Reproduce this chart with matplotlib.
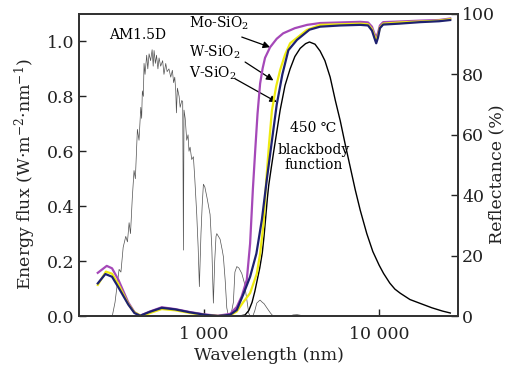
import matplotlib
matplotlib.use("Agg")
import matplotlib.pyplot as plt

# ---------------- data ----------------
am_wl = [299, 310, 327, 335, 345, 357, 365, 373, 380, 389, 398, 405, 416, 425, 435, 440,
         444, 450, 454, 460, 470, 477, 485, 495, 505, 512, 518, 527, 535, 545, 553, 565,
         580, 590, 604, 615, 630, 645, 659, 670, 680, 689, 695, 704, 720, 730, 746, 755,
         762, 768, 780, 796, 810, 820, 832, 850, 869, 885, 908, 925, 940, 960, 975, 991,
         1010, 1040, 1082, 1107, 1130, 1150, 1170, 1182, 1234, 1270, 1289, 1320, 1348, 1377,
         1420, 1470, 1500, 1538, 1580, 1642, 1700, 1754, 1800, 1832, 1900, 1950, 2000, 2060,
         2089, 2150, 2200, 2282, 2400, 2480, 3100, 3226, 3400, 3537, 3700]
am_val = [0.0, 0.05, 0.17, 0.16, 0.25, 0.29, 0.27, 0.34, 0.30, 0.43, 0.53, 0.50, 0.68, 0.64,
          0.76, 0.72, 0.82, 0.80, 0.92, 0.88, 0.95, 0.90, 0.955, 0.93, 0.97, 0.91, 0.967, 0.92,
          0.95, 0.90, 0.94, 0.91, 0.93, 0.88, 0.92, 0.89, 0.90, 0.87, 0.895, 0.85, 0.87, 0.82,
          0.74, 0.83, 0.80, 0.76, 0.785, 0.78, 0.24, 0.75, 0.72, 0.64, 0.66, 0.60, 0.615, 0.57,
          0.58, 0.50, 0.37, 0.25, 0.107, 0.30, 0.40, 0.48, 0.47, 0.43, 0.37, 0.25, 0.047, 0.20,
          0.29, 0.30, 0.28, 0.24, 0.216, 0.13, 0.03, 0.0, 0.0, 0.05, 0.16, 0.18, 0.175, 0.155,
          0.12, 0.06, 0.01, 0.0, 0.0, 0.02, 0.047, 0.055, 0.058, 0.05, 0.045, 0.03, 0.01, 0.0,
          0.0, 0.004, 0.005, 0.003, 0.0]

bb_wl = [1600, 1715, 1800, 1880, 1950, 2010, 2080, 2150, 2200, 2250, 2300, 2340, 2420, 2500,
         2600, 2720, 2900, 3100, 3300, 3540, 3800, 4000, 4300, 4600, 4900, 5250, 5620, 6000,
         6400, 6833, 7300, 7800, 8500, 9200, 10000, 10600, 11500, 12300, 13200, 15000, 17150,
         20000, 23000, 25500]
bb_val = [0.0, 0.004, 0.02, 0.05, 0.09, 0.13, 0.175, 0.23, 0.29, 0.36, 0.43, 0.476, 0.54,
          0.60, 0.67, 0.75, 0.84, 0.90, 0.945, 0.975, 0.992, 0.998, 0.99, 0.965, 0.93, 0.87,
          0.785, 0.71, 0.625, 0.543, 0.46, 0.385, 0.30, 0.235, 0.185, 0.155, 0.12, 0.098,
          0.083, 0.06, 0.046, 0.03, 0.018, 0.011]

mo_wl = [247, 278, 298, 324, 369, 400, 431, 491, 573, 683, 832, 1013, 1200, 1408, 1537, 1640,
         1754, 1832, 1900, 1960, 2020, 2090, 2160, 2230, 2383, 2600, 2830, 3300, 3880, 4600,
         6000, 7800, 8640, 9100, 9400, 9620, 9850, 10100, 10540, 13000, 17150, 22000, 25460]
mo_R = [14.3, 16.6, 15.8, 12.0, 4.5, 1.3, 0.1, 1.5, 2.9, 2.3, 1.3, 0.5, 0.1, 0.7, 3.0, 6.5,
        12.0, 24.0, 42.0, 55.0, 67.0, 77.0, 82.0, 85.5, 89.0, 91.8, 93.6, 95.3, 96.4, 97.0,
        97.2, 97.4, 97.2, 95.8, 93.5, 92.2, 93.8, 96.2, 97.3, 97.5, 97.8, 98.0, 98.5]

w_wl = [247, 275, 298, 324, 369, 400, 440, 491, 573, 683, 832, 1013, 1220, 1408, 1537, 1670,
        1832, 2000, 2090, 2180, 2260, 2350, 2440, 2580, 2720, 2900, 3100, 3860, 4600, 6000,
        7800, 8640, 9100, 9400, 9620, 9850, 10100, 10540, 13000, 17150, 22000, 25460]
w_R = [10.3, 14.7, 14.0, 10.5, 4.0, 1.2, 0.0, 1.0, 2.3, 1.9, 1.0, 0.3, 0.0, 0.2, 1.5, 4.5,
       7.6, 14.0, 20.7, 30.0, 44.0, 57.0, 68.0, 76.0, 81.5, 86.5, 90.3, 94.7, 96.4, 96.6,
       96.8, 96.6, 95.0, 92.8, 91.0, 92.8, 95.5, 96.8, 97.2, 97.5, 97.8, 98.3]

v_wl = [247, 273, 298, 324, 369, 400, 431, 491, 573, 683, 832, 1013, 1200, 1408, 1537, 1670,
        1832, 1990, 2140, 2280, 2440, 2600, 2800, 3030, 3390, 4000, 4600, 6000, 7800, 8640,
        9100, 9400, 9620, 9850, 10100, 10540, 13000, 17150, 22000, 25460]
v_R = [10.8, 13.9, 13.0, 9.5, 3.8, 1.0, 0.1, 1.4, 2.7, 2.2, 1.2, 0.4, 0.0, 0.4, 2.0, 7.0,
       13.0, 20.7, 32.0, 45.0, 58.0, 70.0, 80.0, 88.0, 91.4, 94.8, 95.8, 96.2, 96.4, 96.2,
       94.5, 92.0, 90.3, 92.2, 95.3, 96.5, 96.8, 97.3, 97.6, 98.0]

x_ticks = [1000, 10000]
x_ticklabels = ["1 000", "10 000"]
left_ticks = [0.0, 0.2, 0.4, 0.6, 0.8, 1.0]
right_ticks = [0, 20, 40, 60, 80, 100]

# ---------------- style ----------------
plt.rcParams['font.family'] = ['DejaVu Serif', 'DejaVu Sans']
plt.rcParams['mathtext.fontset'] = 'dejavuserif'
FS = 12.5
TXT = '#222222'

fig = plt.figure(figsize=(5.14, 3.71), dpi=100)
ax = fig.add_axes([0.1537, 0.1482, 0.891 - 0.1537, 0.9623 - 0.1482])
ax2 = ax.twinx()

ax.plot(am_wl, am_val, color='#505050', lw=0.5)
ax.plot(bb_wl, bb_val, color='black', lw=1.0)

ax2.plot(mo_wl, mo_R, color='#a548b8', lw=1.6)
ax2.plot(w_wl, w_R, color='#eeea10', lw=1.6)
ax2.plot(v_wl, v_R, color='#1e2170', lw=1.6)

ax.set_xscale('log')
ax.set_xlim(193, 28200)
ax.set_ylim(0, 1.1)
ax2.set_ylim(0, 100)

ax.set_xticks(x_ticks)
ax.set_xticklabels(x_ticklabels)
ax.xaxis.set_minor_locator(matplotlib.ticker.NullLocator())
ax.set_yticks(left_ticks)
ax.set_yticklabels([f"{t:.1f}" for t in left_ticks])
ax2.set_yticks(right_ticks)

for a in (ax, ax2):
    a.tick_params(direction='in', labelsize=FS, length=5, width=1.0, colors=TXT,
                  labelcolor=TXT, pad=3)
    for s in a.spines.values():
        s.set_linewidth(1.3)
        s.set_color('#333333')
ax.tick_params(axis='x', pad=7)

ax.set_xlabel('Wavelength (nm)', fontsize=FS, color=TXT, labelpad=3)
ax.set_ylabel('Energy flux (W·m$^{-2}$·nm$^{-1}$)', fontsize=FS, color=TXT)
ax.yaxis.set_label_coords(-0.107, 0.47)
fig.text(497 / 514, 0.53, 'Reflectance (%)', fontsize=FS, color=TXT, rotation=90,
         ha='center', va='center')

# ---------------- annotations ----------------
tfs = 10
ax.text(417, 1.022, 'AM1.5D', fontsize=tfs, ha='center', va='center')
ax.text(815, 1.065, 'Mo-SiO$_2$', fontsize=tfs, ha='left', va='center')
ax.text(815, 0.96, 'W-SiO$_2$', fontsize=tfs, ha='left', va='center')
ax.text(815, 0.884, 'V-SiO$_2$', fontsize=tfs, ha='left', va='center')

arrow = dict(arrowstyle='-|>', color='black', lw=0.9, mutation_scale=10, shrinkA=0, shrinkB=0)
ax.annotate('', xy=(2383, 0.979), xytext=(1642, 1.016), arrowprops=arrow)
ax.annotate('', xy=(2489, 0.858), xytext=(1715, 0.925), arrowprops=arrow)
ax.annotate('', xy=(2603, 0.779), xytext=(1504, 0.864), arrowprops=arrow)

ax.text(4224, 0.684, '450 \u2103', fontsize=tfs, ha='center', va='center')
ax.text(4224, 0.604, 'blackbody', fontsize=tfs, ha='center', va='center')
ax.text(4224, 0.549, 'function', fontsize=tfs, ha='center', va='center')

fig.savefig('out.png', dpi=100)
